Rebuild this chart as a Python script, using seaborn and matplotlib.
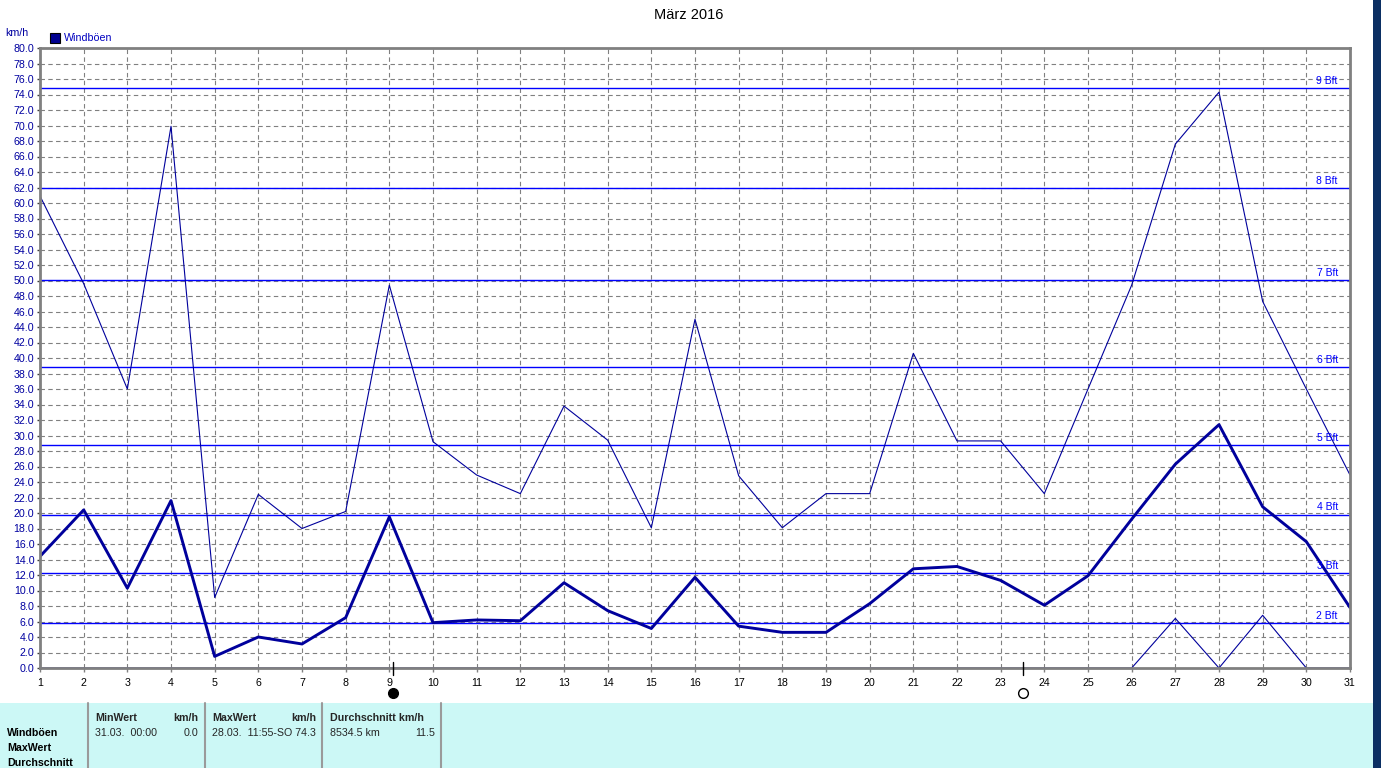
import matplotlib
matplotlib.use("Agg")
import matplotlib.pyplot as plt
import seaborn as sns
import numpy as np
import pandas as pd
from matplotlib.patches import Rectangle
from matplotlib.lines import Line2D

# ---------------- data ----------------
days = list(range(1, 32))
gust_max = [60.9, 49.6, 36.0, 69.9, 9.1, 22.4, 18.0, 20.2, 49.4, 29.2,
            24.9, 22.5, 33.8, 29.4, 18.1, 45.0, 24.8, 18.1, 22.5, 22.5,
            40.6, 29.3, 29.3, 22.5, 36.0, 49.4, 67.6, 74.3, 47.3, 36.0, 24.9]
gust_avg = [14.4, 20.4, 10.3, 21.6, 1.5, 4.0, 3.1, 6.5, 19.5, 5.85,
            6.2, 6.1, 11.0, 7.4, 5.1, 11.7, 5.4, 4.6, 4.6, 8.3,
            12.8, 13.1, 11.3, 8.1, 11.9, 19.2, 26.3, 31.4, 20.8, 16.3, 7.8]
gust_min = [0.0] * 25 + [0.0, 6.4, 0.0, 6.8, 0.0, 0.0]

bft_labels = ["2 Bft", "3 Bft", "4 Bft", "5 Bft", "6 Bft", "7 Bft", "8 Bft", "9 Bft"]
bft_values = [5.76, 12.24, 19.8, 28.8, 38.88, 50.04, 61.92, 74.88]

y_ticks = np.arange(0, 80.1, 2.0)
title = "März 2016"
legend_label = "Windböen"
unit_label = "km/h"

moon_days = [9.08, 23.52]
moon_filled = [True, False]

table_row_labels = ["Windböen", "MaxWert", "Durchschnitt"]
table_headers = [("MinWert", "km/h"), ("MaxWert", "km/h"), ("Durchschnitt km/h", "")]
table_row1 = [("31.03.  00:00", "0.0"), ("28.03.  11:55-SO 74.3", ""), ("8534.5 km", "11.5")]

# ---------------- style ----------------
sns.set_style("white")
plt.rcParams['font.family'] = ['Liberation Sans', 'DejaVu Sans']

W, H = 1381, 768
fig = plt.figure(figsize=(W / 100, H / 100), dpi=100)
fig.patch.set_facecolor("white")

def fx(px):
    return px / W

def fy(py):
    return 1 - py / H

ax_left, ax_right, ax_top, ax_bottom = 40, 1350, 48, 668
ax = fig.add_axes([fx(ax_left), fy(ax_bottom), (ax_right - ax_left) / W, (ax_bottom - ax_top) / H])

navy = "#00009c"
blue = "#0000ff"
grid_c = "#808080"

df = pd.DataFrame({"day": days, "max": gust_max, "avg": gust_avg, "min": gust_min})

sns.lineplot(data=df, x="day", y="max", ax=ax, color=navy, linewidth=0.8, zorder=4)
sns.lineplot(data=df, x="day", y="min", ax=ax, color=navy, linewidth=0.8, zorder=4)
sns.lineplot(data=df, x="day", y="avg", ax=ax, color=navy, linewidth=2.1, zorder=5)

for v, lab in zip(bft_values, bft_labels):
    ax.axhline(v, color=blue, linewidth=1.0, zorder=3)
    ax.annotate(lab, xy=(30.72, v), xytext=(0, 1.5), textcoords="offset points",
                ha="right", va="bottom", fontsize=7.5, color=blue, zorder=6)

ax.set_xlim(1, 31)
ax.set_ylim(0, 80)
ax.set_xticks(days)
ax.set_xticklabels([str(d) for d in days])
ax.set_yticks(y_ticks)
ax.set_yticklabels([f"{v:.1f}" for v in y_ticks])
ax.set_xlabel("")
ax.set_ylabel("")

ax.grid(True, color=grid_c, linestyle=(0, (4, 3)), linewidth=0.8, zorder=1)
ax.set_axisbelow(True)

for s in ax.spines.values():
    s.set_color("#808080")
    s.set_linewidth(2.0)
    s.set_zorder(7)

ax.tick_params(axis="y", which="major", length=2.5, width=1, color="#404040",
               labelsize=7.7, labelcolor="#0000a0", pad=1.5, left=True)
ax.tick_params(axis="x", which="major", length=3, width=1, color="#808080",
               labelsize=7.7, labelcolor="black", pad=4, bottom=True)

# moon phase markers under the axis
trans = ax.get_xaxis_transform()
for d, filled in zip(moon_days, moon_filled):
    ax.add_line(Line2D([d, d], [-0.012, 0.01], transform=trans, color="black",
                       linewidth=1.0, clip_on=False, zorder=8))
    ax.plot([d], [-0.04], marker="o", markersize=7, transform=trans, clip_on=False,
            markerfacecolor="black" if filled else "white", markeredgecolor="black",
            markeredgewidth=1.0, zorder=8)

# title, unit, legend
fig.text(fx(689), fy(15), title, ha="center", va="center", fontsize=10.5, color="black")
fig.text(fx(5), fy(33), unit_label, ha="left", va="center", fontsize=7.7, color="#0000a0")
fig.patches.append(Rectangle((fx(50), fy(43)), 10 / W, 10 / H, transform=fig.transFigure,
                             facecolor="#000090", edgecolor="black", linewidth=0.8))
fig.text(fx(64), fy(38), legend_label, ha="left", va="center", fontsize=7.7, color="#0000c0")

# bottom statistics table
fig.patches.append(Rectangle((0, 0), fx(1373), (H - 703) / H, transform=fig.transFigure,
                             facecolor="#ccf8f6", edgecolor="none", zorder=0))
for sx in [88, 205, 322, 441]:
    fig.add_artist(Line2D([fx(sx), fx(sx)], [fy(703), 0], transform=fig.transFigure,
                          color="#9a9a9a", linewidth=1.5))
for i, lab in enumerate(table_row_labels):
    fig.text(fx(7), fy(733 + 15 * i), lab, ha="left", va="center", fontsize=7.7,
             fontweight="bold", color="black")
col_left = [95, 212, 330]
col_right = [198, 316, 435]
for (h1, h2), (r1, r2), xl, xr in zip(table_headers, table_row1, col_left, col_right):
    fig.text(fx(xl), fy(718), h1, ha="left", va="center", fontsize=7.7, fontweight="bold")
    if h2:
        fig.text(fx(xr), fy(718), h2, ha="right", va="center", fontsize=7.7, fontweight="bold")
    fig.text(fx(xl), fy(733), r1, ha="left", va="center", fontsize=7.7)
    if r2:
        fig.text(fx(xr), fy(733), r2, ha="right", va="center", fontsize=7.7)

# dark desktop strip at right edge
fig.patches.append(Rectangle((fx(1373), 0), 1 - fx(1373), 1, transform=fig.transFigure,
                             facecolor="#0b2f63", edgecolor="none", zorder=0))

fig.savefig("out.png", dpi=100)
